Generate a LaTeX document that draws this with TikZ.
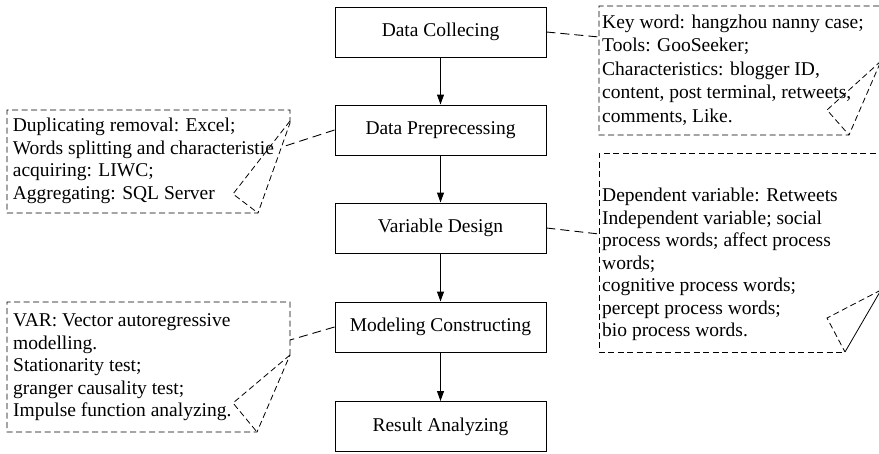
\documentclass[tikz,border=0pt]{standalone}
\usepackage{fontspec}
\setmainfont{Liberation Serif}
\usetikzlibrary{arrows.meta}
\begin{document}
\begin{tikzpicture}[x=1pt,y=-1pt,
  every node/.style={font=\fontsize{19.5}{22.5}\selectfont},
  proc/.style={draw, line width=1pt, minimum width=211pt, minimum height=50pt, inner sep=0pt},
  flow/.style={-{Triangle[length=10pt,width=7pt]}, line width=1pt},
  note/.style={dash pattern=on 6pt off 3.5pt, line width=0.8pt},
  link/.style={dash pattern=on 9pt off 5pt, line width=0.9pt},
  notetext/.style={anchor=north west, inner sep=0pt, align=left}
]
\useasboundingbox (0,0) rectangle (879,453);

% main flow
\node[proc] (coll)  at (440.5,32)    {Data Collecing};
\node[proc] (prep)  at (440.5,130)   {Data Preprecessing};
\node[proc] (var)   at (440.5,228)   {Variable Design};
\node[proc] (model) at (440.5,327)   {Modeling Constructing};
\node[proc] (res)   at (440.5,426.5) {Result Analyzing};

\draw[flow] (coll) -- (prep);
\draw[flow] (prep) -- (var);
\draw[flow] (var) -- (model);
\draw[flow] (model) -- (res);

% note R1 (Data Collecing)
\draw[note] (881,61) -- (881,6) -- (599,6) -- (599,135) -- (849,135) -- (881,61);
\draw[note] (881,61) -- (827,110) -- (849,135);
\coordinate (r1in) at (599,37);
\draw[link] (coll.east) -- (r1in);
\node[notetext, font=\fontsize{19.5}{23.5}\selectfont] (r1txt) at (602,11.5) {\strut Key word: hangzhou nanny case;\\
Tools: GooSeeker;\\
Characteristics: blogger ID,\\
content, post terminal, retweets,\\
comments, Like.};

% note L1 (Data Preprecessing)
\draw[note] (290,123) -- (290,110) -- (7,110) -- (7,213) -- (258,213) -- (290,123);
\draw[note] (290,121) -- (233,194) -- (258,213);
\coordinate (l1in) at (282,147);
\draw[link] (prep.west) -- (l1in);
\node[notetext] (l1txt) at (12.7,116) {\strut Duplicating removal: Excel;\\
Words splitting and characteristie\\
acquiring: LIWC;\\
Aggregating: SQL Server};

% note R2 (Variable Design)
\draw[note] (881,290) -- (881,153) -- (599,153) -- (599,352) -- (845,352);
\draw[note] (881,290) -- (827,318) -- (845,352);
\draw[line width=0.8pt] (845,352) -- (881,290);
\coordinate (r2in) at (599,234);
\draw[link] (var.east) -- (r2in);
\node[notetext] (r2txt) at (602,186) {\strut Dependent variable: Retweets\\
Independent variable; social\\
process words; affect process\\
words;\\
cognitive process words;\\
percept process words;\\
bio process words.};

% note L2 (Modeling Constructing)
\draw[note] (290,355) -- (290,302) -- (7,302) -- (7,432) -- (257,432) -- (290,355);
\draw[note] (290,355) -- (233,403) -- (257,432);
\coordinate (l2in) at (290,340);
\draw[link] (model.west) -- (l2in);
\node[notetext] (l2txt) at (13,311) {\strut VAR: Vector autoregressive\\
modelling.\\
Stationarity test;\\
granger causality test;\\
Impulse function analyzing.};
\end{tikzpicture}
\end{document}
